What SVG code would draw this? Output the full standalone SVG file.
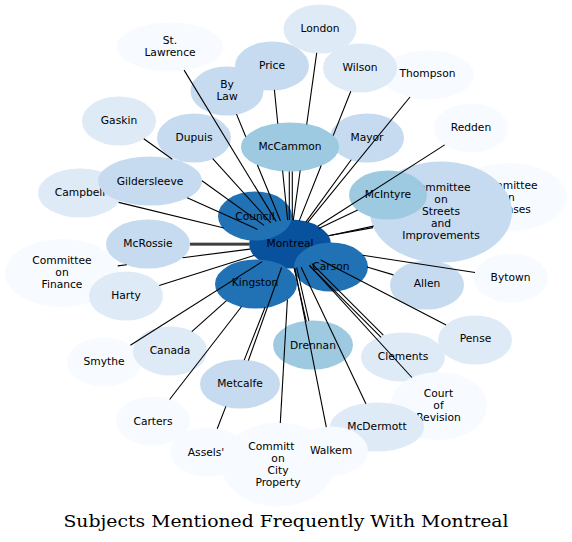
<svg xmlns="http://www.w3.org/2000/svg" width="572" height="542" viewBox="0 0 572 542">
<style>
.n text{font-family:"DejaVu Sans",Verdana,sans-serif;font-size:10.7px;text-anchor:middle;fill:#000}
.c0{fill:#08519c}.c1{fill:#2171b5}.c2{fill:#9ecae1}.c3{fill:#c6dbef}.c4{fill:#deebf7}.c5{fill:#f7fbff}
#edges path{stroke:#000;stroke-width:1.1;fill:none}
.title{font-family:"DejaVu Serif","Liberation Serif",serif;font-size:17.5px;text-anchor:middle;fill:#000}
</style>
<rect width="572" height="542" fill="#fff"/>
<g id="montreal" class="n"><ellipse class="c0" cx="290" cy="244" rx="41" ry="24.5"/><text x="290" y="246.5">Montreal</text></g>
<g id="council" class="n"><ellipse class="c1" cx="255" cy="216" rx="37" ry="24.5"/><text x="255" y="219.8">Council</text></g>
<g id="kingston" class="n"><ellipse class="c1" cx="256" cy="284" rx="41" ry="24.5"/><text x="255" y="286">Kingston</text></g>
<g id="carson" class="n"><ellipse class="c1" cx="331" cy="267" rx="37" ry="24.5"/><text x="331" y="269.8">Carson</text></g>
<g id="campbell" class="n"><ellipse class="c4" cx="80" cy="193" rx="42" ry="24.5"/><text x="80" y="196">Campbell</text></g>
<g id="gildersleeve" class="n"><ellipse class="c3" cx="150" cy="181" rx="52" ry="24.5"/><text x="150" y="184.5">Gildersleeve</text></g>
<g id="gaskin" class="n"><ellipse class="c4" cx="119" cy="121" rx="37" ry="24.5"/><text x="119" y="123.8">Gaskin</text></g>
<g id="dupuis" class="n"><ellipse class="c3" cx="194" cy="138" rx="37" ry="24.5"/><text x="194" y="141">Dupuis</text></g>
<g id="finance" class="n"><ellipse class="c5" cx="62" cy="273" rx="57" ry="34"/><text x="62" y="263.5">Committee</text><text x="62" y="275.5">on</text><text x="62" y="287.5">Finance</text></g>
<g id="mcrossie" class="n"><ellipse class="c3" cx="148" cy="244" rx="42" ry="24.5"/><text x="148" y="246.5">McRossie</text></g>
<g id="harty" class="n"><ellipse class="c4" cx="126" cy="296" rx="37" ry="24.5"/><text x="126" y="298.8">Harty</text></g>
<g id="stlawrence" class="n"><ellipse class="c5" cx="170" cy="47" rx="53" ry="24.5"/><text x="170" y="43.5">St.</text><text x="170" y="55.5">Lawrence</text></g>
<g id="bylaw" class="n"><ellipse class="c3" cx="227" cy="91" rx="36.5" ry="24.5"/><text x="227" y="88">By</text><text x="227" y="100">Law</text></g>
<g id="price" class="n"><ellipse class="c3" cx="272" cy="66" rx="37" ry="24.5"/><text x="272" y="68.8">Price</text></g>
<g id="london" class="n"><ellipse class="c4" cx="320" cy="29" rx="36.5" ry="24.5"/><text x="320" y="31.5">London</text></g>
<g id="thompson" class="n"><ellipse class="c5" cx="428" cy="75" rx="46" ry="24.5"/><text x="427.5" y="77.1">Thompson</text></g>
<g id="wilson" class="n"><ellipse class="c4" cx="360" cy="68" rx="37" ry="24.5"/><text x="360" y="71.1">Wilson</text></g>
<g id="mayor" class="n"><ellipse class="c3" cx="367" cy="138" rx="37" ry="24.5"/><text x="367" y="141">Mayor</text></g>
<g id="mccammon" class="n"><ellipse class="c2" cx="290" cy="147" rx="49" ry="24.5"/><text x="290" y="149.8">McCammon</text></g>
<g id="licenses" class="n"><ellipse class="c5" cx="509" cy="197" rx="58" ry="34"/><text x="508" y="188.5">Committee</text><text x="508" y="200.5">on</text><text x="508" y="212.5">Licenses</text></g>
<g id="streets" class="n"><ellipse class="c3" cx="441" cy="212" rx="71" ry="50.5"/><text x="441" y="190.5">Committee</text><text x="441" y="202.5">on</text><text x="441" y="214.5">Streets</text><text x="441" y="226.5">and</text><text x="441" y="238.5">Improvements</text></g>
<g id="mcintyre" class="n"><ellipse class="c2" cx="388" cy="195" rx="39" ry="24.5"/><text x="388" y="198">McIntyre</text></g>
<g id="redden" class="n"><ellipse class="c5" cx="471" cy="128" rx="37" ry="24.5"/><text x="471" y="130.5">Redden</text></g>
<g id="allen" class="n"><ellipse class="c3" cx="427" cy="285" rx="37" ry="24.5"/><text x="427" y="287">Allen</text></g>
<g id="bytown" class="n"><ellipse class="c5" cx="511" cy="278" rx="37" ry="24.5"/><text x="510.5" y="281">Bytown</text></g>
<g id="pense" class="n"><ellipse class="c4" cx="475" cy="340" rx="37" ry="24.5"/><text x="475.5" y="342">Pense</text></g>
<g id="clements" class="n"><ellipse class="c4" cx="403" cy="357" rx="42" ry="24.5"/><text x="403" y="359.8">Clements</text></g>
<g id="court" class="n"><ellipse class="c5" cx="438.5" cy="406" rx="48.5" ry="34"/><text x="438.5" y="396.5">Court</text><text x="438.5" y="408.5">of</text><text x="438.5" y="420.5">Revision</text></g>
<g id="mcdermott" class="n"><ellipse class="c4" cx="377" cy="427" rx="47" ry="24.5"/><text x="377" y="429.8">McDermott</text></g>
<g id="cityproperty" class="n"><ellipse class="c5" cx="278" cy="464.5" rx="57" ry="42"/><text x="278" y="449.5">Committee</text><text x="278" y="461.5">on</text><text x="278" y="473.5">City</text><text x="278" y="485.5">Property</text></g>
<g id="walkem" class="n"><ellipse class="c5" cx="331" cy="451" rx="37" ry="24.5"/><text x="331" y="453.8">Walkem</text></g>
<g id="drennan" class="n"><ellipse class="c2" cx="313" cy="345" rx="40" ry="24.5"/><text x="313" y="348.5">Drennan</text></g>
<g id="metcalfe" class="n"><ellipse class="c3" cx="240" cy="384" rx="40" ry="24.5"/><text x="240" y="387">Metcalfe</text></g>
<g id="assels" class="n"><ellipse class="c5" cx="207.5" cy="452" rx="37" ry="24.5"/><text x="206" y="456">Assels'</text></g>
<g id="carters" class="n"><ellipse class="c5" cx="153" cy="421" rx="37" ry="24.5"/><text x="153" y="424.5">Carters</text></g>
<g id="smythe" class="n"><ellipse class="c5" cx="104" cy="362" rx="37" ry="24.5"/><text x="104" y="364.8">Smythe</text></g>
<g id="canada" class="n"><ellipse class="c4" cx="170" cy="351" rx="37" ry="24.5"/><text x="170" y="353.8">Canada</text></g>
<g id="edges">
<path d="M184.1,70.1L276.2,221.4"/>
<path d="M236.5,114.1L245.8,136.7M257.4,165L280.4,220.7"/>
<path d="M274.4,89.9L277.8,123.8M282.6,170.7L287.6,220"/>
<path d="M316.7,52.9L306.7,124.5M300.2,170.5L293.3,220.1"/>
<path d="M350.8,91.2L333.2,135.6M321.2,165.5L299.3,220.6"/>
<path d="M351.2,159.7L306,221.9"/>
<path d="M410,97L307.7,222.4"/>
<path d="M444.7,144.9L317.7,226.3"/>
<path d="M357.7,210.1L318.8,228.4"/>
<path d="M373,227.6L328.5,235.8"/>
<path d="M373.5,226.1L328.5,235.7"/>
<path d="M289.3,171.5L289.3,220M292.3,171.5L292.3,220"/>
<path d="M212.7,158.7L270.8,222.8"/>
<path d="M143.8,138.8L172.3,159.3M202,180.7L264.1,225.4"/>
<path d="M187.2,197.8L257.5,229.4"/>
<path d="M118.7,202.4L224,228"/>
<path d="M190,243.3L249,243.3M190,244.9L249,244.9"/>
<path d="M117.7,265.9L126.8,264.7M182.6,257.7L249.9,249.1"/>
<path d="M159.2,285.5L254,255.4"/>
<path d="M130.4,345.2L262.2,261.6"/>
<path d="M191.8,331.6L226.5,300.6"/>
<path d="M169.6,399.5L241.6,306.5"/>
<path d="M248.4,360.5L281.6,267.5"/>
<path d="M217.2,428.7L225.9,406.4M244.2,360.1L265.2,307"/>
<path d="M280.3,423L287.4,299.5"/>
<path d="M326.3,427.2L294.7,267.8"/>
<path d="M308.9,320.9L296.7,267.5M306.3,321.5L294.1,268.1"/>
<path d="M365.9,403.7L301,267.1"/>
<path d="M383.3,335.1L311.8,263.6M381.1,337.3L309.6,265.8"/>
<path d="M411.9,377.5L309.3,265.2"/>
<path d="M446.1,325L320.7,259.9"/>
<path d="M362.7,255.2L475,272.5"/>
<path d="M367,267L393.4,274.9"/>
</g>
<text class="title" x="286" y="527" textLength="445" lengthAdjust="spacingAndGlyphs">Subjects Mentioned Frequently With Montreal</text>
</svg>
